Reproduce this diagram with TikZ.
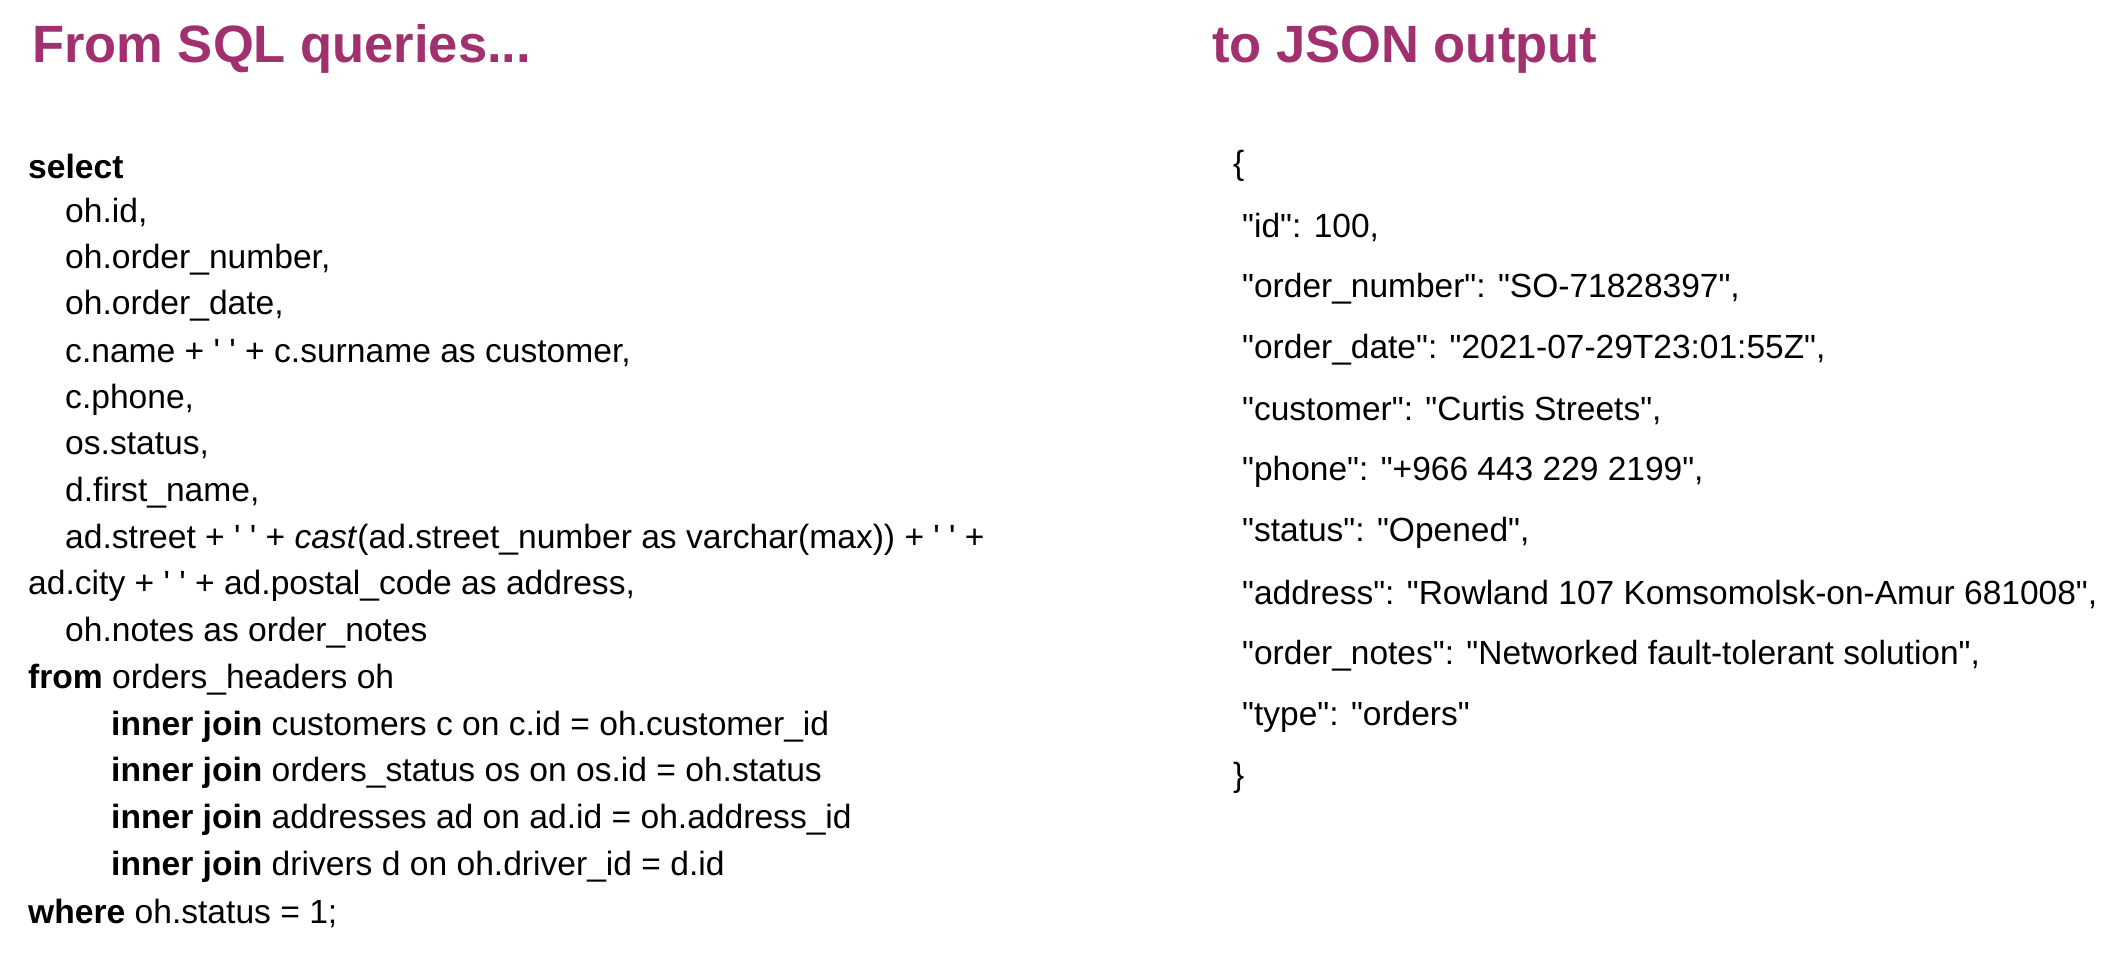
\documentclass[tikz,border=0pt]{standalone}
\usepackage{fontspec}
\newfontfamily\bodyf{Liberation Sans}
\definecolor{titlec}{HTML}{A0306E}
\begin{document}
\begin{tikzpicture}[x=1pt,y=-1pt,
  ttl/.style={anchor=base west,inner sep=0pt,font=\bodyf\fontsize{52.5}{60}\selectfont\bfseries,text=titlec},
  ln/.style={anchor=west,inner sep=0pt,font=\bodyf\fontsize{33.6}{38}\selectfont},
  jn/.style={anchor=west,inner sep=0pt,font=\bodyf\fontsize{33.5}{38}\selectfont}]
\useasboundingbox (0,0) rectangle (2118,954);
\node[ttl] (t1) at (32,62) {From SQL queries...};
\node[ttl] (t2) at (1212,62) {to JSON output};
\def\L{28}\def\I{65}\def\J{111}
\foreach \x/\t [count=\i from 0] in {
 \L/{\textbf{select}},
 \I/{oh.id,},
 \I/{oh.order\_number,},
 \I/{oh.order\_date,},
 \I/{c.name + ' ' + c.surname as customer,},
 \I/{c.phone,},
 \I/{os.status,},
 \I/{d.first\_name,},
 \I/{ad.street + ' ' + \textit{cast}(ad.street\_number as varchar(max)) + ' ' +},
 \L/{ad.city + ' ' + ad.postal\_code as address,},
 \I/{oh.notes as order\_notes},
 \L/{\textbf{from} orders\_headers oh},
 \J/{\textbf{inner join} customers c on c.id = oh.customer\_id},
 \J/{\textbf{inner join} orders\_status os on os.id = oh.status},
 \J/{\textbf{inner join} addresses ad on ad.id = oh.address\_id},
 \J/{\textbf{inner join} drivers d on oh.driver\_id = d.id},
 \L/{\textbf{where} oh.status = 1;}}
 \node[ln] (s\i) at (\x,{166+46.7*\i}) {\t};
\foreach \x/\t [count=\i from 0] in {
 1233/{\{},
 1242/{"id": 100,},
 1242/{"order\_number": "SO-71828397",},
 1242/{"order\_date": "2021-07-29T23:01:55Z",},
 1242/{"customer": "Curtis Streets",},
 1242/{"phone": "+966 443 229 2199",},
 1242/{"status": "Opened",},
 1242/{"address": "Rowland 107 Komsomolsk-on-Amur 681008",},
 1242/{"order\_notes": "Networked fault-tolerant solution",},
 1242/{"type": "orders"},
 1233/{\}}}
 \node[jn] (j\i) at (\x,{166+61.2*\i}) {\t};
\end{tikzpicture}
\end{document}
